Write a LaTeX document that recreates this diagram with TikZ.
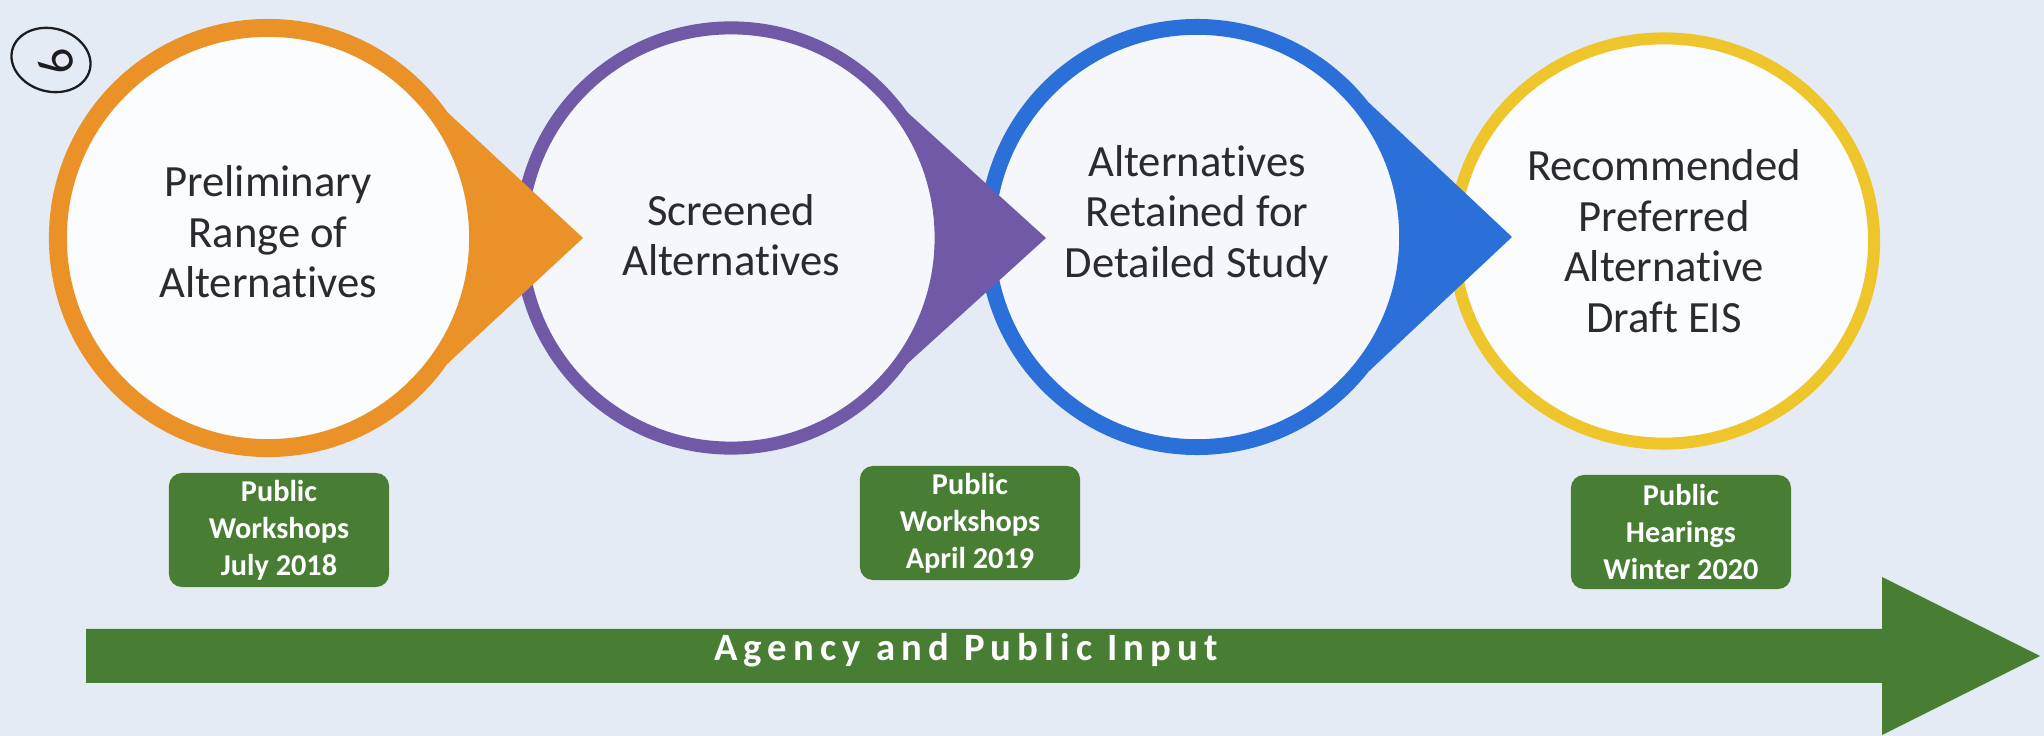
\documentclass[tikz,border=0pt]{standalone}
\usepackage{fontspec}
\setmainfont{Carlito}[Ligatures=NoCommon]
\newfontfamily\trackedfont{Carlito}[LetterSpace=16]
\usepackage{tikz}
\usetikzlibrary{shapes,arrows.meta,positioning,calc}
\usepackage{xcolor}
\definecolor{stageorange}{RGB}{234,146,40}
\definecolor{stagepurple}{RGB}{112,90,168}
\definecolor{stageblue}{RGB}{42,112,216}
\definecolor{stageyellow}{RGB}{238,198,44}
\definecolor{inputgreen}{RGB}{72,126,52}
\definecolor{paperbg}{RGB}{229,235,244}
\definecolor{inktext}{RGB}{42,42,48}
\definecolor{pencil}{RGB}{30,28,30}

\begin{document}
\begin{tikzpicture}[
    x=0.01cm, y=0.01cm,
    stage/.style={ellipse, minimum width=4.2cm, minimum height=4.2cm, inner sep=0pt,
        fill=white!60!paperbg},
    stagetext/.style={align=center, text=inktext, inner sep=0pt,
        font=\fontsize{12.7}{14.4}\selectfont},
    milestone/.style={rectangle, rounded corners=3.7pt, fill=inputgreen, text=white,
        minimum width=2.2cm, minimum height=1.14cm, inner sep=0pt, align=center,
        font=\bfseries\fontsize{8.6}{10.5}\selectfont},
    >=Stealth
]
\useasboundingbox (0,0) rectangle (2044,736);
\fill[paperbg] (0,0) rectangle (2044,736);

% stage centres and pointer tips
\coordinate (prelim-c) at (268,498);
\coordinate (screened-c) at (731,498);
\coordinate (retained-c) at (1197,499);
\coordinate (preferred-c) at (1664,495);
\coordinate (prelim-tip) at (583,498);
\coordinate (screened-tip) at (1046,498);
\coordinate (retained-tip) at (1512,499);

% stages drawn right to left, so each pointer lies over the next ring
\node[stage, draw=stageyellow, line width=3.4pt, minimum height=4.05cm,
    fill=white!85!paperbg] (preferred) at (preferred-c) {};

\fill[stageblue] ($(retained-c)+(38:2.18cm)$) -- (retained-tip)
    -- ($(retained-c)+(-38:2.18cm)$) -- cycle;
\node[stage, draw=stageblue, line width=4.5pt] (retained) at (retained-c) {};

\fill[stagepurple] ($(screened-c)+(36:2.16cm)$) -- (screened-tip)
    -- ($(screened-c)+(-36:2.16cm)$) -- cycle;
\node[stage, draw=stagepurple, line width=3.7pt] (screened) at (screened-c) {};

\fill[stageorange] ($(prelim-c)+(35:2.19cm)$) -- (prelim-tip)
    -- ($(prelim-c)+(-35:2.19cm)$) -- cycle;
\node[stage, draw=stageorange, line width=5.1pt, fill=white!85!paperbg] (prelim) at (prelim-c) {};

\node[stagetext] (prelim-text) at ([yshift=0.06cm]prelim.center) {Preliminary\\Range of\\Alternatives};
\node[stagetext] (screened-text) at ([yshift=0.03cm]screened.center) {Screened\\Alternatives};
\node[stagetext] (retained-text) at ([yshift=0.22cm]retained.center) {Alternatives\\Retained for\\Detailed Study};
\node[stagetext] (preferred-text) at (preferred.center) {Recommended\\Preferred\\Alternative\\Draft EIS};

% public input milestones
\node[milestone] (workshops1) at (279,206) {Public\\Workshops\\July 2018};
\node[milestone] (workshops2) at (970,213) {Public\\Workshops\\April 2019};
\node[milestone] (hearings) at (1681,204) {Public\\Hearings\\Winter 2020};

% timeline arrow
\fill[inputgreen] (86,53) -- (1882,53) -- (1882,1) -- (2040,80)
    -- (1882,159) -- (1882,107) -- (86,107) -- cycle;
\node[anchor=base, text=white, inner sep=0pt,
    font=\trackedfont\bfseries\fontsize{11}{13}\selectfont] (inputlabel) at (966,75) {Agency and Public Input};

% pencil mark
\node[ellipse, draw=pencil, line width=0.65pt, rotate=-15,
    minimum width=0.8cm, minimum height=0.63cm, inner sep=0pt] (mark) at (51,676) {};
\node[text=pencil, rotate=-70, inner sep=0pt, font=\fontsize{15}{15}\selectfont] (marknum) at (56,674) {9};
\end{tikzpicture}
\end{document}
